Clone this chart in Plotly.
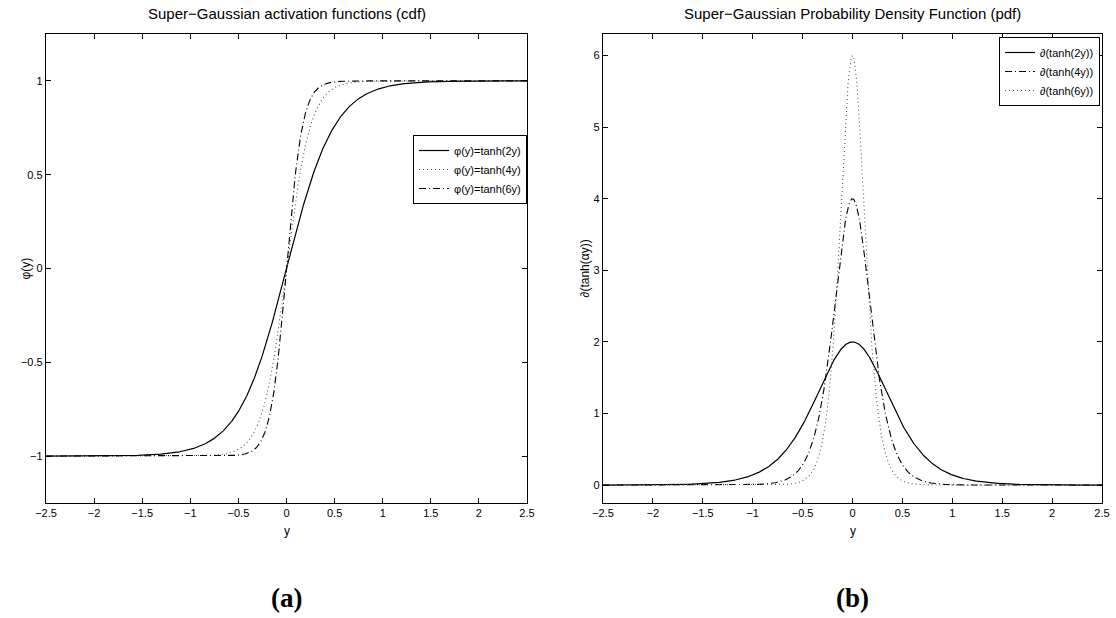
import numpy as np
import plotly.graph_objects as go

# Curves are analytic functions named in the chart's legends: tanh(a*y) and its derivative
alphas = [2, 4, 6]
cdf_names = ["φ(y)=tanh(2y)", "φ(y)=tanh(4y)", "φ(y)=tanh(6y)"]
pdf_names = ["∂(tanh(2y))", "∂(tanh(4y))", "∂(tanh(6y))"]
x_ticks = [-2.5, -2, -1.5, -1, -0.5, 0, 0.5, 1, 1.5, 2, 2.5]
cdf_yticks = [-1, -0.5, 0, 0.5, 1]
pdf_yticks = [0, 1, 2, 3, 4, 5, 6]
titles = ["Super−Gaussian activation functions (cdf)", "Super−Gaussian Probability Density Function (pdf)"]
xlabel = "y"
ylabels = ["φ(y)", "∂(tanh(αy))"]
panel_labels = ["(a)", "(b)"]

SOLID = dict(color="black", width=1.2, dash="solid")
DOT = dict(color="#555555", width=1.1, dash="1px,3px")
DASHDOT = dict(color="black", width=1.1, dash="7px,3px,1px,3px")
cdf_lines = [SOLID, DOT, DASHDOT]
pdf_lines = [SOLID, DASHDOT, DOT]

y = np.linspace(-2.5, 2.5, 1001)

fig = go.Figure()
for a, name, ln in zip(alphas, cdf_names, cdf_lines):
    fig.add_trace(go.Scatter(x=y, y=np.tanh(a * y), mode="lines", name=name, line=ln,
                             xaxis="x", yaxis="y", legend="legend"))
for a, name, ln in zip(alphas, pdf_names, pdf_lines):
    fig.add_trace(go.Scatter(x=y, y=a / np.cosh(a * y) ** 2, mode="lines", name=name, line=ln,
                             xaxis="x2", yaxis="y2", legend="legend2"))

W, H = 1116, 618
L1, R1 = 46 / W, 527 / W
L2, R2 = 603 / W, 1102 / W
T, B = 1 - 34 / H, 1 - 503 / H
MIDY = (T + B) / 2

FONT = dict(family="Liberation Sans", size=11, color="black")
ax_common = dict(showline=True, linecolor="black", linewidth=1.3, mirror="ticks",
                 ticks="inside", ticklen=5, tickcolor="black", showgrid=False,
                 zeroline=False, tickfont=FONT, automargin=False)

def ann(text, x, y, font, angle=0):
    return dict(text=text, x=x, y=y, xref="paper", yref="paper", xanchor="center",
                yanchor="middle", showarrow=False, font=font, textangle=angle)

TFONT = dict(family="Liberation Sans", size=15, color="black")
LFONT = dict(family="Liberation Sans", size=12, color="black")
PFONT = dict(family="Liberation Serif", size=27, color="black")

fig.update_layout(
    width=W, height=H, margin=dict(l=0, r=0, t=0, b=0),
    plot_bgcolor="white", paper_bgcolor="white",
    xaxis=dict(domain=[L1, R1], range=[-2.5, 2.5], tickvals=x_ticks, anchor="y", **ax_common),
    yaxis=dict(domain=[B, T], range=[-1.25, 1.25], tickvals=cdf_yticks, anchor="x", **ax_common),
    xaxis2=dict(domain=[L2, R2], range=[-2.5, 2.5], tickvals=x_ticks, anchor="y2", **ax_common),
    yaxis2=dict(domain=[B, T], range=[-0.25, 6.3], tickvals=pdf_yticks, anchor="x2", **ax_common),
    legend=dict(x=R1, xanchor="right", y=1 - 135 / H, yanchor="top",
                bgcolor="white", bordercolor="black", borderwidth=1,
                font=FONT, tracegroupgap=0, itemwidth=30),
    legend2=dict(x=R2 - 2 / W, xanchor="right", y=1 - 37 / H, yanchor="top",
                 bgcolor="white", bordercolor="black", borderwidth=1,
                 font=FONT, tracegroupgap=0, itemwidth=30),
    showlegend=True,
    annotations=[
        ann(titles[0], (L1 + R1) / 2, 1 - 14 / H, TFONT),
        ann(titles[1], (L2 + R2) / 2, 1 - 14 / H, TFONT),
        ann(xlabel, (L1 + R1) / 2, 1 - 531 / H, LFONT),
        ann(xlabel, (L2 + R2) / 2, 1 - 531 / H, LFONT),
        ann(ylabels[0], 25 / W, MIDY, LFONT, -90),
        ann(ylabels[1], 584 / W, MIDY, LFONT, -90),
        ann("<b>%s</b>" % panel_labels[0], (L1 + R1) / 2, 1 - 598 / H, PFONT),
        ann("<b>%s</b>" % panel_labels[1], (L2 + R2) / 2, 1 - 598 / H, PFONT),
    ],
)

fig.write_html("out.html", config={"displayModeBar": False},
               post_script="document.body.style.margin='0';")
